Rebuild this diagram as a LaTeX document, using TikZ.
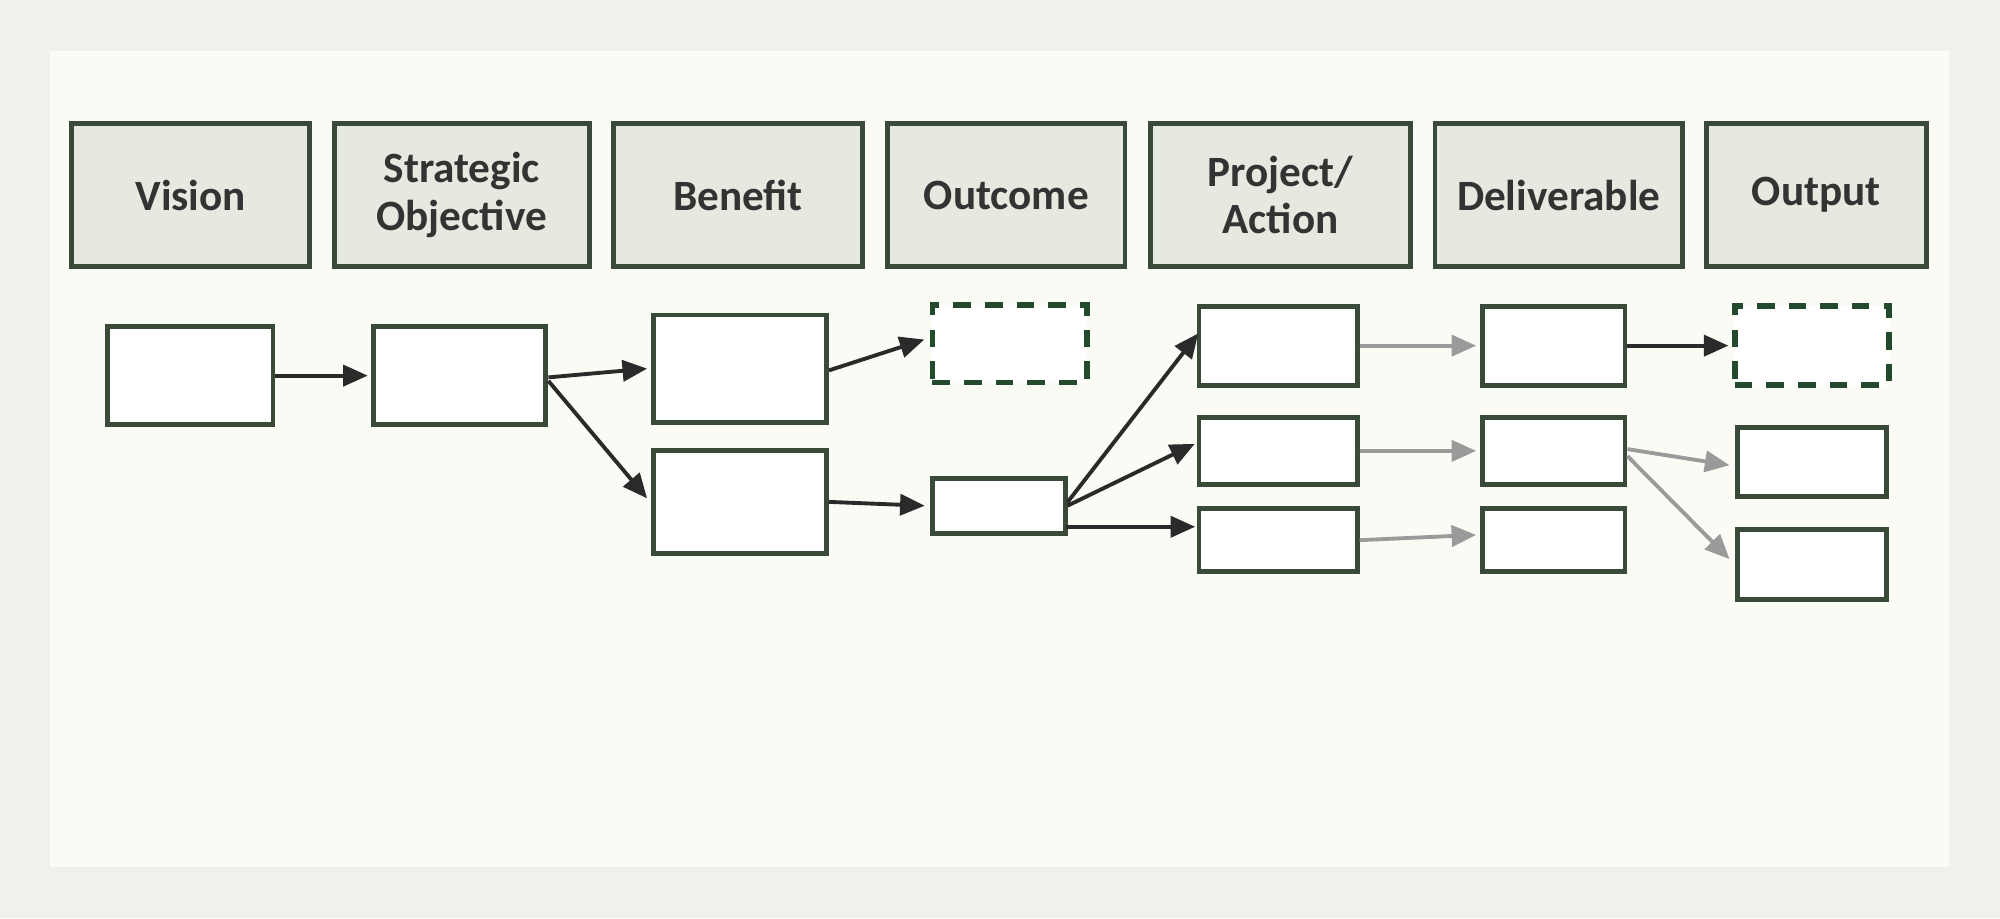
\documentclass[tikz,border=0pt]{standalone}
\usepackage{fontspec}
\setmainfont{Carlito}
\usetikzlibrary{arrows.meta,calc}
\definecolor{bgout}{HTML}{F0F1EC}
\definecolor{bgin}{HTML}{FBFBF6}
\definecolor{hdr}{HTML}{E6E9DF}
\definecolor{bord}{HTML}{3A4A38}
\definecolor{dash}{HTML}{244A2E}
\definecolor{arr}{HTML}{2A2A2A}
\definecolor{garr}{HTML}{9A9A9A}
\begin{document}
\begin{tikzpicture}[x=0.012755cm,y=-0.012755cm,
  hd/.style={draw=bord,fill=hdr,line width=1.4pt,align=center,font=\fontsize{12.3}{13.5}\selectfont\bfseries,text=black!80},
  bx/.style={draw=bord,fill=white,line width=1.4pt},
  db/.style={draw=dash,fill=white,line width=1.6pt,dash pattern=on 5pt off 4pt},
  ar/.style={draw=arr,line width=1.1pt,-{Triangle[length=7pt,width=6pt]}},
  ga/.style={draw=garr,line width=1.1pt,-{Triangle[length=7pt,width=6pt]}}]
\fill[bgout] (0,0) rectangle (1568,720);
\fill[bgin] (39,40) rectangle (1528,680);
\useasboundingbox (0,0) rectangle (1568,720);
\newcommand\hdbox[4]{\node[hd,minimum width={(#3-#2)*0.012755cm},minimum height={112*0.012755cm}] (#1) at ({(#2+#3)/2},153) {#4};}
\newcommand\rbox[6]{\node[#6,minimum width={(#3-#2)*0.012755cm},minimum height={(#5-#4)*0.012755cm}] (#1) at ({(#2+#3)/2},{(#4+#5)/2}) {};}
\hdbox{h1}{56}{243}{Vision}
\hdbox{h2}{262}{462}{Strategic\\Objective}
\hdbox{h3}{481}{676}{Benefit}
\hdbox{h4}{696}{882}{Outcome}
\hdbox{h5}{902}{1106}{Project/\\Action}
\hdbox{h6}{1125}{1319}{Deliverable}
\hdbox{h7}{1338}{1510}{Output}
\rbox{a1}{84}{214}{256}{333}{bx}
\rbox{b1}{293}{428}{256}{333}{bx}
\rbox{c1}{512}{648}{247}{331}{bx}
\rbox{c2}{512}{648}{353}{434}{bx}
\rbox{d1}{731}{852}{239}{300}{db}
\rbox{d2}{731}{835}{375}{418}{bx}
\rbox{e1}{940}{1064}{240}{302}{bx}
\rbox{e2}{940}{1064}{327}{380}{bx}
\rbox{e3}{940}{1064}{399}{448}{bx}
\rbox{f1}{1162}{1274}{240}{302}{bx}
\rbox{f2}{1162}{1274}{327}{380}{bx}
\rbox{f3}{1162}{1274}{399}{448}{bx}
\rbox{g1}{1360}{1481}{240}{302}{db}
\rbox{g2}{1362}{1479}{335}{389}{bx}
\rbox{g3}{1362}{1479}{415}{470}{bx}
\coordinate (d2o) at (836,413);
\coordinate (e3i) at (937,413);
\draw[ar] (a1.east) -- ([xshift=-1pt]b1.west);
\draw[ar] ([yshift=-0.5pt]b1.east) -- ([xshift=-1pt]c1.west);
\draw[ar] ([yshift=-1.5pt]b1.east) -- ([xshift=-1pt,yshift=1pt]c2.west);
\draw[ar] ([yshift=-0.5pt]c1.east) -- ([xshift=-1.5pt,yshift=1.2pt]d1.west);
\draw[ar] (c2.east) -- ([xshift=-1.5pt]d2.west);
\draw[ar] ([yshift=1pt]d2.east) -- ([xshift=0.5pt,yshift=3.5pt]e1.west);
\draw[ar] (d2.east) -- ([xshift=-0.5pt,yshift=2pt]e2.west);
\draw[ar] (d2o) -- (e3i);
\draw[ga] (e1.east) -- ([xshift=-1pt]f1.west);
\draw[ga] (e2.east) -- ([xshift=-1pt]f2.west);
\draw[ga] (e3.east) -- ([xshift=-1pt,yshift=1.5pt]f3.west);
\draw[ar] (f1.east) -- ([xshift=-1pt]g1.west);
\draw[ga] ([yshift=0.5pt]f2.east) -- ([xshift=-1.5pt,yshift=-1pt]g2.west);
\draw[ga] ([yshift=-1.5pt]f2.east) -- ([xshift=-1.5pt,yshift=1.5pt]g3.west);
\end{tikzpicture}
\end{document}
